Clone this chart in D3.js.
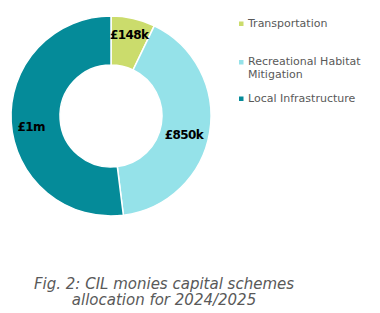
<!DOCTYPE html>
<html>
<head>
<meta charset="utf-8">
<script src="https://cdn.jsdelivr.net/npm/d3@7"></script>
<style>
  body { margin: 0; background: #fff; }
  svg { display: block; font-family: "DejaVu Sans", Verdana, sans-serif; }
</style>
</head>
<body>
<div id="root"></div>
<script>
const categories = ['Transportation', 'Recreational Habitat Mitigation', 'Local Infrastructure'];
const values = [148, 850, 1080]; // £k
const valueLabels = ['£148k', '£850k', '£1m'];
const legendLines = [['Transportation'], ['Recreational Habitat', 'Mitigation'], ['Local Infrastructure']];
const colours = ['#cbdc6c', '#95e2e9', '#058b99'];
const caption = ['Fig. 2: CIL monies capital schemes', 'allocation for 2024/2025'];

const width = 380;
const height = 313;

const svg = d3.select('#root')
  .append('svg')
  .attr('width', width)
  .attr('height', height);

const cx = 111, cy = 116;
const outerR = 100, innerR = 51;

const pie = d3.pie().sort(null).value(d => d);
const arcs = pie(values);
const arc = d3.arc().innerRadius(innerR).outerRadius(outerR);

const g = svg.append('g').attr('transform', `translate(${cx},${cy})`);

g.selectAll('path')
  .data(arcs)
  .join('path')
  .attr('d', arc)
  .attr('fill', (d, i) => colours[i])
  .attr('stroke', '#fff')
  .attr('stroke-width', 1.5);

// value labels near the outer edge, nudged like the original
const labelArc = d3.arc().innerRadius(82).outerRadius(82);
const nudge = [[0, -1], [-8, 6], [2, 6]];
g.selectAll('text.val')
  .data(arcs)
  .join('text')
  .attr('class', 'val')
  .attr('transform', (d, i) => {
    const [x, y] = labelArc.centroid(d);
    return `translate(${x + nudge[i][0]},${y + nudge[i][1]})`;
  })
  .attr('text-anchor', 'middle')
  .attr('dy', '0.35em')
  .attr('font-size', 12)
  .attr('letter-spacing', -0.6)
  .attr('font-weight', 'bold')
  .attr('fill', '#000')
  .text((d, i) => valueLabels[i]);

// legend
const legendY = [26.5, 65, 101.5];
const legend = svg.append('g').attr('transform', 'translate(239,0)');
legendLines.forEach((lines, i) => {
  legend.append('rect')
    .attr('x', 0)
    .attr('y', legendY[i] - 5)
    .attr('width', 4.5)
    .attr('height', 4.5)
    .attr('fill', colours[i]);
  const t = legend.append('text')
    .attr('y', legendY[i])
    .attr('font-size', 11)
    .attr('fill', '#595959');
  lines.forEach((line, j) => {
    t.append('tspan')
      .attr('x', 9)
      .attr('dy', j === 0 ? 0 : 12.5)
      .text(line);
  });
});

// caption
svg.append('g')
  .selectAll('text')
  .data(caption)
  .join('text')
  .attr('x', 164)
  .attr('y', (d, i) => 288.5 + i * 16.5)
  .attr('text-anchor', 'middle')
  .attr('font-size', 15)
  .attr('font-style', 'italic')
  .attr('fill', '#595959')
  .text(d => d);
</script>
</body>
</html>
